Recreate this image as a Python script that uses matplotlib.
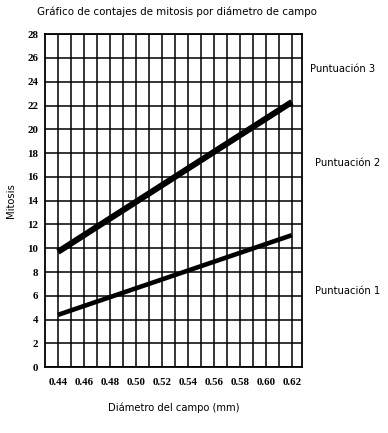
import matplotlib
matplotlib.use("Agg")
import matplotlib.pyplot as plt
import numpy as np

# Data
diametro = [0.44, 0.62]
puntuacion3_limite = [9.7, 22.3]   # upper boundary line
puntuacion2_limite = [4.4, 11.1]   # lower boundary line
x_ticks = [0.44, 0.46, 0.48, 0.50, 0.52, 0.54, 0.56, 0.58, 0.60, 0.62]
y_ticks = list(range(0, 29, 2))
region_labels = ["Puntuación 3", "Puntuación 2", "Puntuación 1"]
region_label_y = [25.1, 17.2, 6.4]
region_label_x = [1.03, 1.05, 1.05]

fig = plt.figure(figsize=(3.88, 4.33), dpi=100)
ax = fig.add_axes([0.116, 0.152, 0.662, 0.769])

ax.set_xlim(0.43, 0.6277)
ax.set_ylim(0, 28)

# grid
for xv in np.arange(0.44, 0.6201, 0.01):
    ax.axvline(xv, color="black", lw=1.1, zorder=1)
for yv in y_ticks:
    ax.axhline(yv, color="black", lw=1.1, zorder=1)

ax.plot(diametro, puntuacion3_limite, color="black", lw=4.4, solid_capstyle="butt", zorder=3)
ax.plot(diametro, puntuacion2_limite, color="black", lw=3.3, solid_capstyle="butt", zorder=3)

for s in ax.spines.values():
    s.set_linewidth(1.3)
    s.set_color("black")

ax.set_xticks(x_ticks)
ax.set_xticklabels([f"{v:.2f}" for v in x_ticks], family="Liberation Serif", fontweight="bold", fontsize=7.8)
ax.set_yticks(y_ticks)
ax.set_yticklabels([str(v) for v in y_ticks], family="Liberation Serif", fontweight="bold", fontsize=7.8)
ax.tick_params(axis="x", length=0, pad=8)
ax.tick_params(axis="y", length=0, pad=5)

ax.set_xlabel("Diámetro del campo (mm)", fontsize=7.2, labelpad=11)
ax.set_ylabel("Mitosis", fontsize=7.2, labelpad=8)

fig.text(0.455, 0.972, "Gráfico de contajes de mitosis por diámetro de campo", ha="center", va="center", fontsize=7.4)

for lab, xv, yv in zip(region_labels, region_label_x, region_label_y):
    ax.text(xv, yv / 28, lab, transform=ax.transAxes, ha="left", va="center", fontsize=7.2)

fig.savefig("out.png", dpi=100)
